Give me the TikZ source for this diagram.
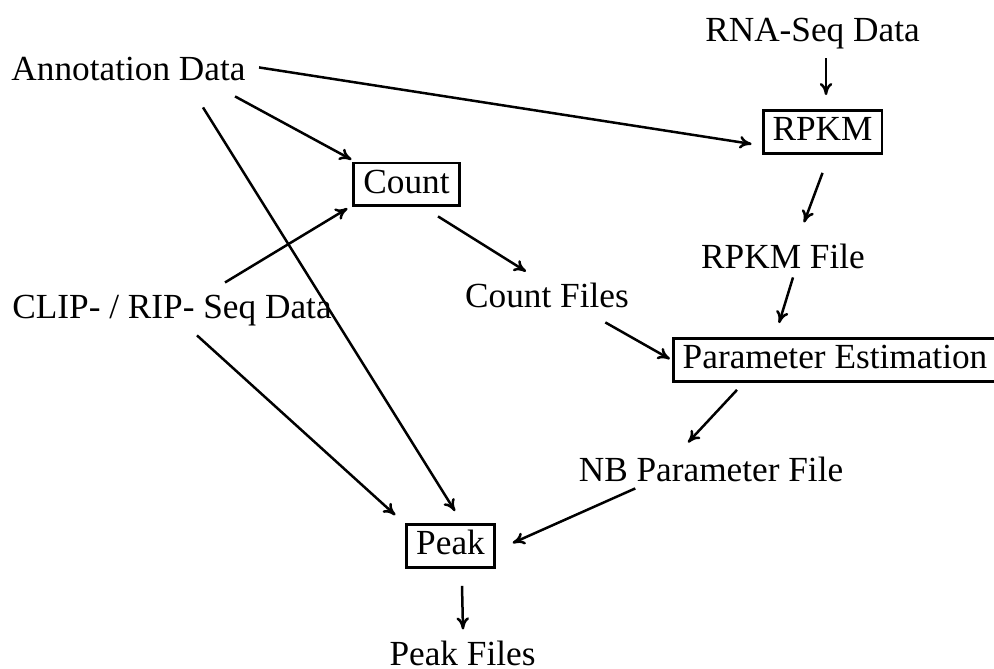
\documentclass[tikz,border=0pt]{standalone}
\usepackage{fontspec}
\setmainfont{Liberation Serif}
\usetikzlibrary{arrows.meta}

\begin{document}
\begin{tikzpicture}[x=0.38pt,y=-0.38pt,
  font=\fontsize{13.4}{15}\selectfont,
  every node/.style={text height=9.5pt,text depth=3pt},
  data/.style={inner sep=0pt,anchor=base},
  proc/.style={draw,line width=1.1pt,inner xsep=3.6pt,inner ysep=1.9pt},
  flow/.style={line width=.95pt,-{To[length=4.6pt,width=4.8pt]}}]
\useasboundingbox (0,0) rectangle (994,669);

\node[data] (annot) at (128.5,81) {Annotation Data};
\node[data] (rna) at (812.5,42) {RNA-Seq Data};
\node[data] (clip) at (172,319) {CLIP- / RIP- Seq Data};
\node[data] (rpkmf) at (783,269) {RPKM File};
\node[data] (cntf) at (547,308) {Count Files};
\node[data] (nb) at (711,481) {NB Parameter File};
\node[data] (peakf) at (462.5,665) {Peak Files};

\node[proc] (rpkm) at (822.5,132) {RPKM};
\node[proc] (count) at (406.5,184.5) {Count};
\node[proc] (param) at (835,360) {Parameter Estimation};
\node[proc] (peak) at (450.5,546) {Peak};

\draw[flow] ([shift={(13,-5)}]annot.east) -- ([shift={(-10,12)}]rpkm.west);
\draw[flow] ([shift={(-11,7)}]annot.south east) -- ([shift={(-1,-2)}]count.north west);
\draw[flow] ([shift={(74.5,18)}]annot.south) -- ([shift={(4.5,-12)}]peak.north);
\draw[flow] ([shift={(13.5,8)}]rna.south) -- ([shift={(3.5,-14)}]rpkm.north);
\draw[flow] ([shift={(0,18)}]rpkm.south) -- ([shift={(21,-21)}]rpkmf.north);
\draw[flow] ([shift={(53,-11)}]clip.north) -- ([shift={(-5,1)}]count.south west);
\draw[flow] ([shift={(25,8)}]clip.south) -- ([shift={(-10,-8)}]peak.north west);
\draw[flow] ([shift={(31.5,9)}]count.south) -- ([shift={(-21,-11)}]cntf.north);
\draw[flow] ([shift={(-24,6)}]cntf.south east) -- ([shift={(-2,-1)}]param.west);
\draw[flow] ([shift={(10,0)}]rpkmf.south) -- ([shift={(-56,-14)}]param.north);
\draw[flow] ([shift={(-98,7)}]param.south) -- ([shift={(-23,-13)}]nb.north);
\draw[flow] ([shift={(57,-1)}]nb.south west) -- ([shift={(17,-3)}]peak.east);
\draw[flow] ([shift={(11.5,17)}]peak.south) -- ([shift={(.5,-10)}]peakf.north);
\end{tikzpicture}
\end{document}
